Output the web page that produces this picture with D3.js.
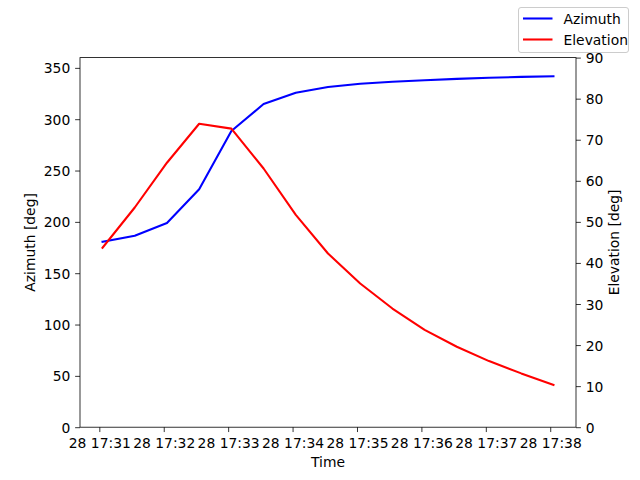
<!DOCTYPE html>
<html>
<head>
<meta charset="utf-8">
<script src="https://cdn.jsdelivr.net/npm/d3@7"></script>
<style>
  body { margin: 0; background: #fff; }
  svg { display: block; }
  text { font-family: "DejaVu Sans", sans-serif; font-size: 13.89px; fill: #000; }
</style>
</head>
<body>
<svg id="chart" width="640" height="480"></svg>
<script>
// ---- data ----
const times = [
  "2024-01-28T17:31:03", "2024-01-28T17:31:33", "2024-01-28T17:32:03", "2024-01-28T17:32:33",
  "2024-01-28T17:33:03", "2024-01-28T17:33:33", "2024-01-28T17:34:03", "2024-01-28T17:34:33",
  "2024-01-28T17:35:03", "2024-01-28T17:35:33", "2024-01-28T17:36:03", "2024-01-28T17:36:33",
  "2024-01-28T17:37:03", "2024-01-28T17:37:33", "2024-01-28T17:38:03"
];
const azimuth = [180.7, 186.5, 198.9, 231.7, 288.5, 314.8, 325.8, 331.3, 334.5, 336.5, 338.0, 339.3, 340.3, 341.2, 341.8];
const elevation = [43.7, 53.5, 64.4, 73.9, 72.7, 63.0, 51.7, 42.3, 35.0, 28.9, 23.7, 19.6, 16.1, 13.1, 10.3];
const azTicks = [0, 50, 100, 150, 200, 250, 300, 350];
const elTicks = [0, 10, 20, 30, 40, 50, 60, 70, 80, 90];
const xTickTimes = ["2024-01-28T17:31:00", "2024-01-28T17:32:00", "2024-01-28T17:33:00", "2024-01-28T17:34:00",
                    "2024-01-28T17:35:00", "2024-01-28T17:36:00", "2024-01-28T17:37:00", "2024-01-28T17:38:00"];
const seriesNames = ["Azimuth", "Elevation"];
const seriesColors = ["#0000ff", "#ff0000"];

// ---- layout ----
const L = 80, R = 576, T = 57.6, B = 427.2;
const parse = d3.isoParse;
const tData = times.map(parse);
const t0 = tData[0], t1 = tData[tData.length - 1];
const span = t1 - t0;
const x = d3.scaleTime()
  .domain([new Date(+t0 - span * 0.05), new Date(+t1 + span * 0.05)])
  .range([L, R]);
const yL = d3.scaleLinear().domain([0, 360]).range([B, T]);
const yR = d3.scaleLinear().domain([0, 90]).range([B, T]);

const svg = d3.select("#chart");
const fmt = d3.timeFormat("%d %H:%M");

// lines
const lineAz = d3.line().x((d, i) => x(tData[i])).y(d => yL(d));
const lineEl = d3.line().x((d, i) => x(tData[i])).y(d => yR(d));
svg.append("path").datum(azimuth).attr("d", lineAz)
  .attr("fill", "none").attr("stroke", seriesColors[0]).attr("stroke-width", 2.08)
  .attr("stroke-linejoin", "round").attr("stroke-linecap", "square");
svg.append("path").datum(elevation).attr("d", lineEl)
  .attr("fill", "none").attr("stroke", seriesColors[1]).attr("stroke-width", 2.08)
  .attr("stroke-linejoin", "round").attr("stroke-linecap", "square");

// axes
const tickLen = 4.86, pad = 4.86;
const xAxis = d3.axisBottom(x).tickValues(xTickTimes.map(parse)).tickFormat(fmt)
  .tickSize(tickLen).tickPadding(pad).tickSizeOuter(0);
const gx = svg.append("g").attr("transform", `translate(0,${B})`).call(xAxis);
const yAxisL = d3.axisLeft(yL).tickValues(azTicks).tickSize(tickLen).tickPadding(pad).tickSizeOuter(0);
const gyl = svg.append("g").attr("transform", `translate(${L},0)`).call(yAxisL);
const yAxisR = d3.axisRight(yR).tickValues(elTicks).tickSize(tickLen).tickPadding(pad).tickSizeOuter(0);
const gyr = svg.append("g").attr("transform", `translate(${R},0)`).call(yAxisR);

[gx, gyl, gyr].forEach(g => {
  g.selectAll("path.domain").remove();
  g.selectAll(".tick line").attr("stroke", "#000").attr("stroke-width", 0.8);
  g.selectAll(".tick text").attr("font-family", "DejaVu Sans").attr("font-size", "13.89px").attr("fill", "#000");
});
gx.selectAll(".tick text").attr("dy", null).attr("y", tickLen + pad + 10.6);
gyl.selectAll(".tick text").attr("dy", "0.36em");
gyr.selectAll(".tick text").attr("dy", "0.36em");

// frame
svg.append("rect").attr("x", L).attr("y", T).attr("width", R - L).attr("height", B - T)
  .attr("fill", "none").attr("stroke", "#000").attr("stroke-width", 0.8);

// axis labels
svg.append("text").attr("x", (L + R) / 2).attr("y", 467).attr("text-anchor", "middle").text("Time");
svg.append("text").attr("transform", "translate(35,242.4) rotate(-90)").attr("text-anchor", "middle").text("Azimuth [deg]");
svg.append("text").attr("transform", "translate(618.5,242.4) rotate(-90)").attr("text-anchor", "middle").text("Elevation [deg]");

// legend
const lg = svg.append("g");
lg.append("rect").attr("x", 518.5).attr("y", 7.5).attr("width", 110).attr("height", 45)
  .attr("rx", 2.5).attr("fill", "#fff").attr("fill-opacity", 0.8)
  .attr("stroke", "#cccccc").attr("stroke-width", 1);
seriesNames.forEach((name, i) => {
  const yy = 18.5 + i * 21;
  lg.append("line").attr("x1", 523).attr("x2", 552.5).attr("y1", yy).attr("y2", yy)
    .attr("stroke", seriesColors[i]).attr("stroke-width", 2.08);
  lg.append("text").attr("x", 563.5).attr("y", yy + 5).text(name);
});
</script>
</body>
</html>
